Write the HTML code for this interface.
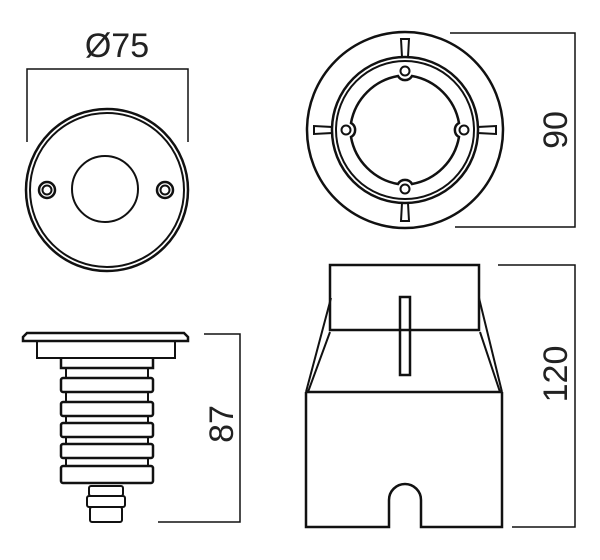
<!DOCTYPE html>
<html><head><meta charset="utf-8"><style>
html,body{margin:0;padding:0;background:#fff;}
svg{display:block;}
text{font-family:"Liberation Sans",sans-serif;font-size:34px;fill:#222;}
</style></head><body>
<svg width="600" height="560" viewBox="0 0 600 560" xmlns="http://www.w3.org/2000/svg">
<g fill="none" stroke="#111" stroke-width="2">
<!-- top-left view -->
<polyline points="27,142 27,69 188,69 188,142" stroke-width="1.5"/>
<circle cx="107" cy="190" r="81" stroke-width="2.5"/>
<circle cx="107" cy="190" r="77"/>
<circle cx="105" cy="189" r="33"/>
<circle cx="47" cy="190" r="8" stroke-width="2.5"/>
<circle cx="47" cy="190" r="4.5"/>
<circle cx="165" cy="190" r="8" stroke-width="2.5"/>
<circle cx="165" cy="190" r="4.5"/>

<!-- top-right view -->
<circle cx="405" cy="130" r="98" stroke-width="2.5"/>
<circle cx="405" cy="130" r="73" stroke-width="2.5"/>
<circle cx="405" cy="130" r="69"/>
<path d="M398,76 A58,58 0 0 0 351,123 A8,8 0 0 1 351,137 A58,58 0 0 0 398,184 A8,8 0 0 1 412,184 A58,58 0 0 0 459,137 A8,8 0 0 1 459,123 A58,58 0 0 0 412,76 A8,8 0 0 1 398,76 Z" stroke-width="2.5"/>
<circle cx="405" cy="71" r="4.5"/>
<circle cx="405" cy="189" r="4.5"/>
<circle cx="346" cy="130" r="4.5"/>
<circle cx="464" cy="130" r="4.5"/>
<path d="M401,39 L409,39 L408,57 L402,57 Z"/>
<path d="M401,221 L409,221 L408,203 L402,203 Z"/>
<path d="M314,126 L314,134 L332,133 L332,127 Z"/>
<path d="M496,126 L496,134 L478,133 L478,127 Z"/>
<polyline points="450,33 575,33 575,227 455,227" stroke-width="1.5"/>

<!-- bottom-left view -->
<path d="M27,333 L184,333 L188,337 L188,341 L23,341 L23,337 Z" stroke-width="2.5"/>
<rect x="37" y="341" width="138" height="17"/>
<path d="M61,358 L61,368 L153,368 L153,358" stroke-width="2.5"/>
<g stroke-width="2.5">
<rect x="61" y="378" width="92" height="14" rx="2"/>
<rect x="61" y="402" width="92" height="14" rx="2"/>
<rect x="61" y="423" width="92" height="14" rx="2"/>
<rect x="61" y="444" width="92" height="14" rx="2"/>
<rect x="61" y="466" width="92" height="17" rx="2"/>
</g>
<line x1="66" y1="368" x2="66" y2="378"/><line x1="148" y1="368" x2="148" y2="378"/>
<line x1="66" y1="392" x2="66" y2="402"/><line x1="148" y1="392" x2="148" y2="402"/>
<line x1="66" y1="416" x2="66" y2="423"/><line x1="148" y1="416" x2="148" y2="423"/>
<line x1="66" y1="437" x2="66" y2="444"/><line x1="148" y1="437" x2="148" y2="444"/>
<line x1="66" y1="458" x2="66" y2="466"/><line x1="148" y1="458" x2="148" y2="466"/>
<rect x="89" y="486" width="34" height="10" rx="2"/>
<rect x="87" y="496" width="38" height="11" rx="2"/>
<rect x="90" y="507" width="32" height="15" rx="2"/>
<polyline points="204,334 240,334 240,522 158,522" stroke-width="1.5"/>

<!-- bottom-right view -->
<rect x="330" y="265" width="149" height="65" stroke-width="2.5"/>
<path d="M331,298 L306,392 M330,332 L308,392" />
<path d="M479,298 L502,392 M480,332 L500,392"/>
<line x1="306" y1="392" x2="502" y2="392" stroke-width="2.5"/>
<path d="M306,392 L306,527 L389,527 L389,500 A16,16 0 0 1 421,500 L421,527 L502,527 L502,392" stroke-width="2.5"/>
<rect x="400" y="297" width="10" height="78" stroke-width="2.5"/>
<polyline points="498,265 575,265 575,527 512,527" stroke-width="1.5"/>
</g>
<text x="117" y="57" text-anchor="middle">Ø75</text>
<text transform="translate(567,130) rotate(-90)" text-anchor="middle">90</text>
<text transform="translate(567,374) rotate(-90)" text-anchor="middle">120</text>
<text transform="translate(233,424) rotate(-90)" text-anchor="middle">87</text>
</svg>
</body></html>
